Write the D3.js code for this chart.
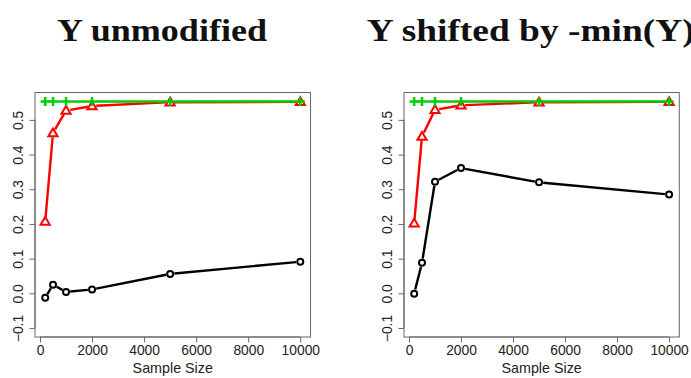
<!DOCTYPE html>
<html><head><meta charset="utf-8">
<script src="https://cdn.jsdelivr.net/npm/d3@7"></script>
<style>body{margin:0;background:#fff}</style>
</head><body>
<svg id="c" width="691" height="378"></svg>
<script>
const sampleSizes = [200, 500, 1000, 2000, 5000, 10000];
const titles = ["Y unmodified", "Y shifted by -min(Y)"];
const leftBlack = [-0.013, 0.025, 0.004, 0.011, 0.056, 0.091];
const leftRed = [0.207, 0.462, 0.527, 0.540, 0.551, 0.552];
const leftGreen = [0.553, 0.553, 0.553, 0.553, 0.553, 0.553];
const rightBlack = [-0.001, 0.088, 0.322, 0.361, 0.320, 0.285];
const rightRed = [0.202, 0.452, 0.529, 0.542, 0.551, 0.552];
const rightGreen = [0.553, 0.553, 0.553, 0.553, 0.553, 0.553];
const xTicks = [0, 2000, 4000, 6000, 8000, 10000];
const yTicks = [-0.1, 0, 0.1, 0.2, 0.3, 0.4, 0.5];
const xLabel = "Sample Size";

(function () {
const svg = d3.select("#c");
const panels = [
  {title: titles[0], left: 35, right: 310.5, series: [leftBlack, leftRed, leftGreen], tx: 57, tw: 210},
  {title: titles[1], left: 404, right: 679.3, series: [rightBlack, rightRed, rightGreen], tx: 366.7, tw: 328}
];
const plotTop = 92.5, plotBottom = 337;
const colors = ["#000000", "#ff0000", "#00cd00"];
const shapes = ["circle", "triangle", "plus"];
const frameCol = "#666";
const font = "'Liberation Sans', Arial, sans-serif";

panels.forEach(p => {
  const x = d3.scaleLinear().domain([-192, 10392]).range([p.left, p.right]);
  const y = d3.scaleLinear().domain([-0.126, 0.579]).range([plotBottom, plotTop]);
  const g = svg.append("g");

  g.append("text").attr("x", p.tx).attr("y", 40.5)
    .attr("font-family", "'Liberation Serif','Times New Roman',serif")
    .attr("font-weight", "bold").attr("font-size", 32)
    .attr("textLength", p.tw).attr("lengthAdjust", "spacingAndGlyphs")
    .attr("fill", "#111").text(p.title);

  g.append("rect").attr("x", p.left).attr("y", plotTop)
    .attr("width", p.right - p.left).attr("height", plotBottom - plotTop)
    .attr("fill", "none").attr("stroke", frameCol).attr("stroke-width", 1);

  const xa = g.append("g").attr("transform", `translate(0,${plotBottom})`)
    .call(d3.axisBottom(x).tickValues(xTicks).tickSize(5.5).tickPadding(3).tickFormat(d3.format("d")));
  xa.select(".domain").attr("stroke", frameCol).attr("d", `M${x(0)},0H${x(10000)}`);
  xa.selectAll(".tick line").attr("stroke", frameCol);
  xa.selectAll(".tick text").attr("font-family", font).attr("font-size", 13.8)
    .attr("fill", "#222").attr("dy", null).attr("y", 18);

  const ya = g.append("g").attr("transform", `translate(${p.left},0)`)
    .call(d3.axisLeft(y).tickValues(yTicks).tickSize(5.5).tickFormat(d3.format(".1f")));
  ya.select(".domain").attr("stroke", frameCol).attr("d", `M0,${y(-0.1)}V${y(0.5)}`);
  ya.selectAll(".tick line").attr("stroke", frameCol);
  ya.selectAll(".tick text").attr("font-family", font).attr("font-size", 13.8)
    .attr("fill", "#222").attr("x", null).attr("dy", null)
    .attr("text-anchor", "middle")
    .attr("transform", "translate(-12,0) rotate(-90)");

  g.append("text").attr("x", (p.left + p.right) / 2).attr("y", 373)
    .attr("text-anchor", "middle").attr("font-family", font).attr("font-size", 14.3)
    .attr("fill", "#222").text(xLabel);

  p.series.forEach((vals, si) => {
    const pts = sampleSizes.map((s, i) => [x(s), y(vals[i])]);
    const gap = 4.2;
    for (let i = 0; i < pts.length - 1; i++) {
      const [x0, y0] = pts[i], [x1, y1] = pts[i + 1];
      const len = Math.hypot(x1 - x0, y1 - y0);
      if (len <= 2 * gap) continue;
      const ux = (x1 - x0) / len, uy = (y1 - y0) / len;
      g.append("line")
        .attr("x1", x0 + ux * gap).attr("y1", y0 + uy * gap)
        .attr("x2", x1 - ux * gap).attr("y2", y1 - uy * gap)
        .attr("stroke", colors[si]).attr("stroke-width", 2.4);
    }
    pts.forEach(([px, py]) => {
      if (shapes[si] === "circle") {
        g.append("circle").attr("cx", px).attr("cy", py).attr("r", 3)
          .attr("fill", "none").attr("stroke", colors[si]).attr("stroke-width", 2);
      } else if (shapes[si] === "triangle") {
        const s = 4.6;
        g.append("path").attr("d", `M${px},${py - s}L${px + s},${py + s * 0.7}L${px - s},${py + s * 0.7}Z`)
          .attr("fill", "none").attr("stroke", colors[si]).attr("stroke-width", 2);
      } else {
        const s = 4.6;
        g.append("path").attr("d", `M${px - s},${py}H${px + s}M${px},${py - s}V${py + s}`)
          .attr("stroke", colors[si]).attr("stroke-width", 2.5);
      }
    });
  });
});
})();
</script>
</body></html>
